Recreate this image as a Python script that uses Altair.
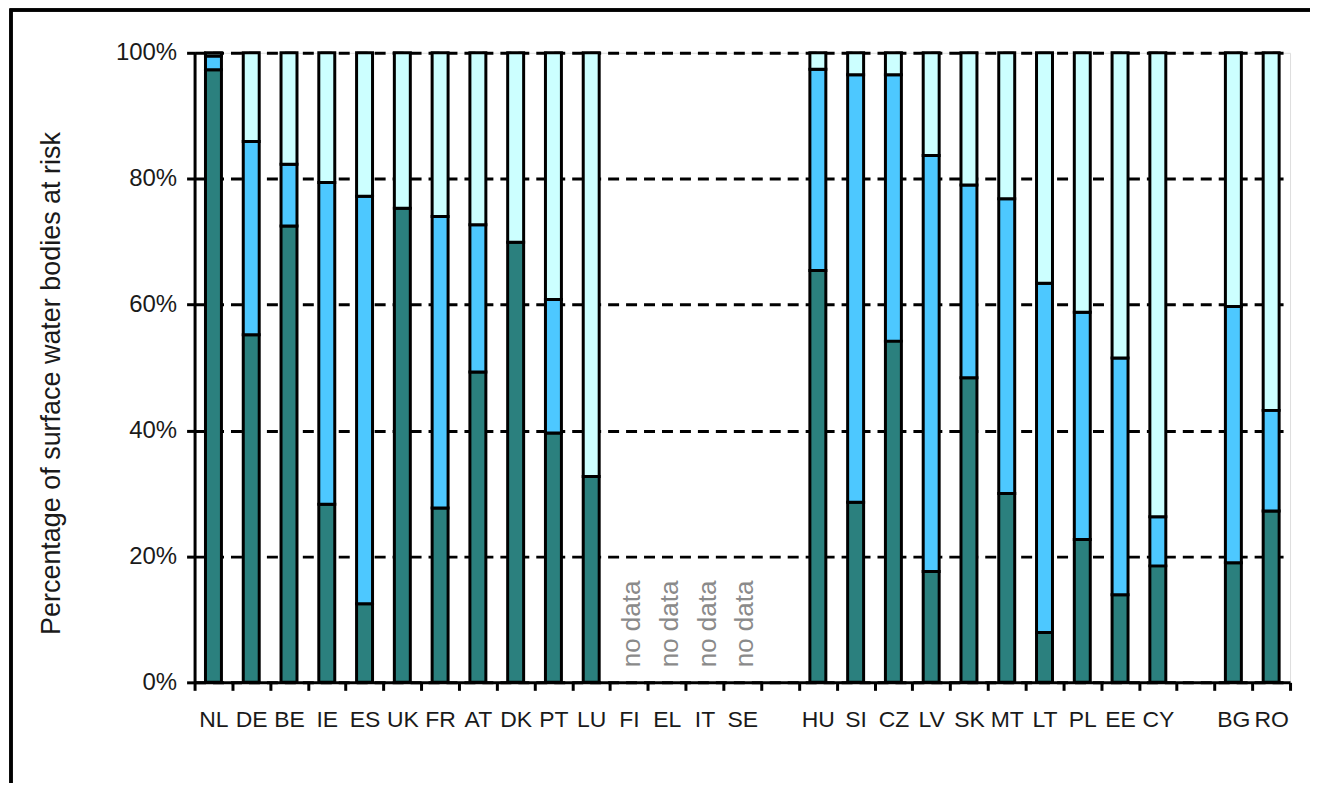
import altair as alt
import pandas as pd

# categories in display order ("gap" slots are empty spacers on the axis)
slots = ["NL", "DE", "BE", "IE", "ES", "UK", "FR", "AT", "DK", "PT", "LU",
         "FI", "EL", "IT", "SE", "gap1",
         "HU", "SI", "CZ", "LV", "SK", "MT", "LT", "PL", "EE", "CY", "gap2",
         "BG", "RO"]

countries = ["NL", "DE", "BE", "IE", "ES", "UK", "FR", "AT", "DK", "PT", "LU",
             "HU", "SI", "CZ", "LV", "SK", "MT", "LT", "PL", "EE", "CY",
             "BG", "RO"]
at_risk = [97.3, 55.2, 72.5, 28.3, 12.5, 75.3, 27.7, 49.3, 69.9, 39.6, 32.7,
           65.4, 28.6, 54.2, 17.6, 48.4, 30.0, 7.9, 22.7, 13.9, 18.5,
           19.0, 27.2]
possibly_at_risk = [2.2, 30.7, 9.8, 51.1, 64.7, 0.0, 46.3, 23.4, 0.0, 21.2, 0.0,
                    32.0, 67.9, 42.3, 66.1, 30.6, 46.8, 55.5, 36.1, 37.6, 7.8,
                    40.7, 16.0]
not_at_risk = [0.5, 14.1, 17.7, 20.6, 22.8, 24.7, 26.0, 27.3, 30.1, 39.2, 67.3,
               2.6, 3.5, 3.5, 16.3, 21.0, 23.2, 36.6, 41.2, 48.5, 73.7,
               40.3, 56.8]
no_data = ["FI", "EL", "IT", "SE"]

series = ["At risk", "Possibly at risk", "Not at risk"]
colors = ["#2B807E", "#4DC8FF", "#CCFFFF"]

rows = []
for i, c in enumerate(countries):
    for k, vals in enumerate([at_risk, possibly_at_risk, not_at_risk]):
        if vals[i] > 0:
            rows.append({"country": c, "series": series[k], "order": k, "value": vals[i]})
df = pd.DataFrame(rows)
nd = pd.DataFrame({"country": no_data, "label": ["no data"] * len(no_data)})

W, H = 1098, 631
FONT = "Liberation Sans"
TXT = "#1a1a1a"
LW = 3

xscale = alt.Scale(domain=slots, paddingInner=0, paddingOuter=0)

bars = alt.Chart(df).mark_bar(size=16, stroke="black", strokeWidth=LW).encode(
    x=alt.X("country:N", scale=xscale, sort=slots,
            axis=alt.Axis(title=None, labelAngle=0, tickBand="extent",
                          labelExpr="indexof(datum.label, 'gap') == 0 ? '' : datum.label",
                          domainColor="black", domainWidth=LW,
                          tickColor="black", tickWidth=LW, tickSize=8,
                          labelFont=FONT, labelFontSize=23, labelColor=TXT,
                          labelPadding=18, grid=False)),
    y=alt.Y("value:Q", stack="zero",
            scale=alt.Scale(domain=[0, 100], nice=False),
            axis=alt.Axis(title="Percentage of surface water bodies at risk",
                          values=[0, 20, 40, 60, 80, 100],
                          labelExpr="datum.value + '%'",
                          domainColor="black", domainWidth=LW,
                          tickColor="black", tickWidth=LW, tickSize=8,
                          labelFont=FONT, labelFontSize=24, labelColor=TXT,
                          labelPadding=10,
                          titleFont=FONT, titleFontSize=27, titleFontWeight="normal",
                          titleColor=TXT, titlePadding=50, titleY=331,
                          grid=True, gridColor="black", gridWidth=LW,
                          gridDash=[11, 7])),
    color=alt.Color("series:N", scale=alt.Scale(domain=series, range=colors), legend=None),
    order=alt.Order("order:Q"),
)

texts = alt.Chart(nd).mark_text(angle=270, align="left", baseline="middle",
                                font=FONT, fontSize=26, color="#8a8a8a", dy=3).encode(
    x=alt.X("country:N", scale=xscale, sort=slots),
    y=alt.Y(datum=2.4),
    text="label:N",
)

frame = alt.Chart(nd).mark_rect(fill=None, stroke="black", strokeWidth=3).encode(
    x=alt.value(-184), x2=alt.value(W + 60),
    y=alt.value(-43), y2=alt.value(H + 300),
)

chart = alt.layer(bars, texts, frame).properties(
    width=W, height=H,
    padding={"left": 187, "top": 44, "right": 20, "bottom": 100},
    autosize=alt.AutoSizeParams(type="none"),
).configure_view(stroke="black", strokeWidth=LW).configure(background="white")

chart.save("out.html", embed_options={"renderer": "svg", "actions": False})
